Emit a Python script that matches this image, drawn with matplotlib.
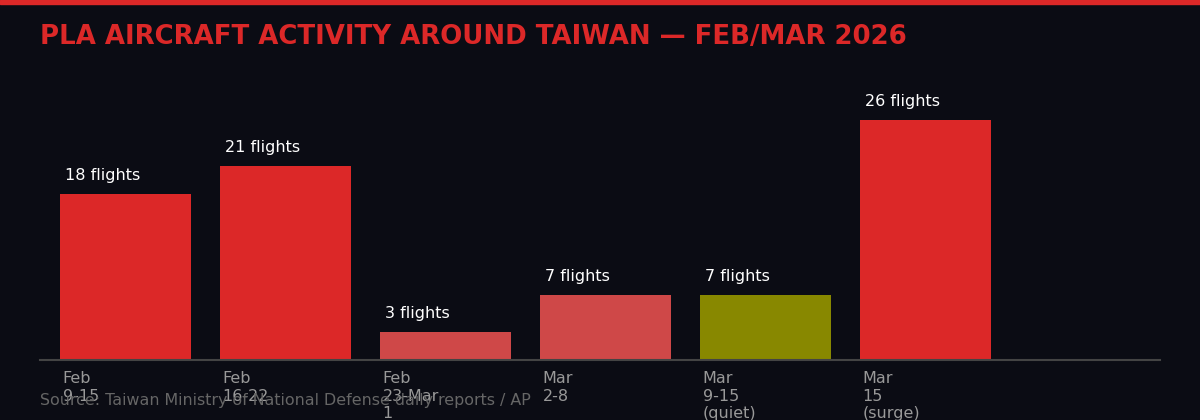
import matplotlib.pyplot as plt

# Dados
semanas = ['Feb\n9-15', 'Feb\n16-22', 'Feb\n23-Mar\n1', 'Mar\n2-8', 'Mar\n9-15\n(quiet)', 'Mar\n15\n(surge)']
voos = [18, 21, 3, 7, 7, 26]
cores = ['#dc2828', '#dc2828', '#cf4848', '#cf4848', '#888800', '#dc2828']

fundo = '#0b0c14'

fig = plt.figure(figsize=(12, 4.2), dpi=100, facecolor=fundo)
ax = fig.add_axes([40 / 1200, 60 / 420, 1120 / 1200, 300 / 420])
ax.set_facecolor(fundo)

x = list(range(len(voos)))
ax.bar(x, voos, width=131 / 160, color=cores, align='center')

for i, v in enumerate(voos):
    ax.annotate(f'{v} flights', (i - 0.375, v), xytext=(0, 8), textcoords='offset points',
                color='white', fontsize=11.5, ha='left', va='bottom')

ax.set_xlim(-85 / 160, 7 - 85 / 160)
ax.set_ylim(0, 300 / (240 / 26))

for s in ['top', 'right', 'left']:
    ax.spines[s].set_visible(False)
ax.spines['bottom'].set_color('#444444')
ax.spines['bottom'].set_linewidth(1.5)
ax.set_yticks([])
ax.set_xticks([])

for i, lab in enumerate(semanas):
    ax.annotate(lab, (i - 0.39, 0), xytext=(0, -8), textcoords='offset points',
                color='#999999', fontsize=11.5, ha='left', va='top', linespacing=1.2)

# Faixa vermelha no topo
fig.add_artist(plt.Rectangle((0, 416 / 420), 1, 4 / 420, transform=fig.transFigure, color='#dc2828'))

fig.text(40 / 1200, 1 - 37 / 420, 'PLA AIRCRAFT ACTIVITY AROUND TAIWAN — FEB/MAR 2026', color='#dc2828',
         fontsize=18.7, fontweight='bold', va='center', ha='left')
fig.text(40 / 1200, 1 - 400 / 420, 'Source: Taiwan Ministry of National Defense daily reports / AP',
         color='#666666', fontsize=11.4, va='center', ha='left')

fig.savefig('out.png', facecolor=fundo)
